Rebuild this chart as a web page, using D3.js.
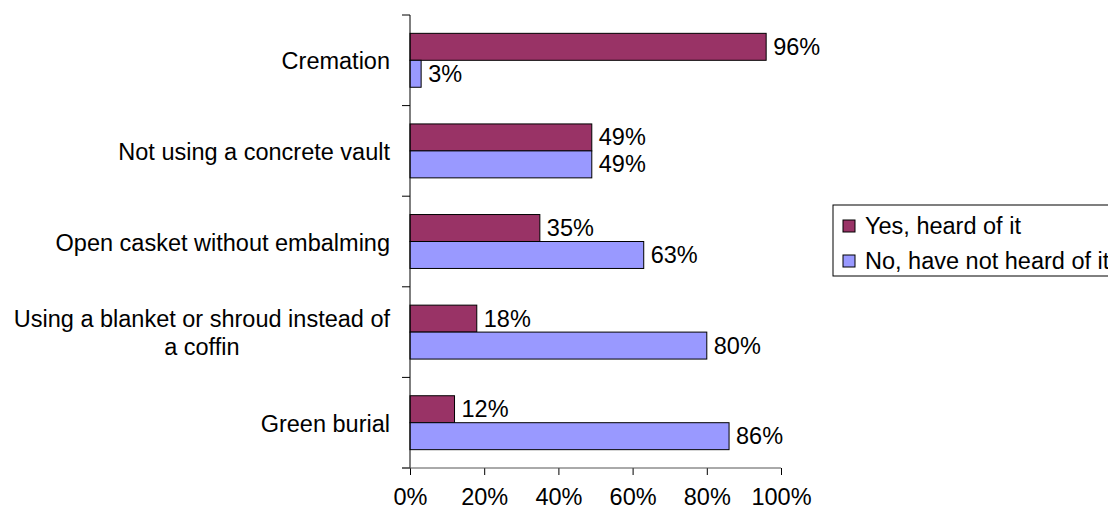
<!DOCTYPE html>
<html>
<head>
<meta charset="utf-8">
<script src="https://cdn.jsdelivr.net/npm/d3@7"></script>
<style>
  body { margin: 0; background: #fff; }
  svg { display: block; font-family: "Liberation Sans", Arial, sans-serif; }
  text { fill: #000; }
</style>
</head>
<body>
<div class="container"></div>
<script>
const categories = ["Cremation", "Not using a concrete vault", "Open casket without embalming",
  "Using a blanket or shroud instead of a coffin", "Green burial"];
const seriesNames = ["Yes, heard of it", "No, have not heard of it"];
const yesValues = [96, 49, 35, 18, 12];
const noValues = [3, 49, 63, 80, 86];
const xTicks = [0, 20, 40, 60, 80, 100];
const colors = ["#993366", "#9999ff"];

const w = 1108;
const h = 512;
const fontSize = 23.5;

const svg = d3.select('.container').append('svg')
        .attr('width', w)
        .attr('height', h);

const x = d3.scaleLinear().domain([0, 100]).range([410, 781]);
const y = d3.scaleBand().domain(categories).range([15, 468]);
const ySub = d3.scaleBand().domain(seriesNames).range([0, y.bandwidth()]).paddingOuter(0.68);

const rows = categories.map((c, i) => ({cat: c, vals: [yesValues[i], noValues[i]]}));

// bars
const groups = svg.append('g').selectAll('g')
    .data(rows)
    .enter().append('g')
      .attr('transform', d => `translate(0,${y(d.cat)})`);

groups.selectAll('rect')
    .data(d => d.vals.map((v, j) => ({v, s: seriesNames[j], j})))
    .enter().append('rect')
      .attr('x', x(0))
      .attr('y', d => ySub(d.s))
      .attr('width', d => x(d.v) - x(0))
      .attr('height', ySub.bandwidth())
      .attr('fill', d => colors[d.j])
      .attr('stroke', '#000')
      .attr('stroke-width', 1);

groups.selectAll('text')
    .data(d => d.vals.map((v, j) => ({v, s: seriesNames[j]})))
    .enter().append('text')
      .attr('x', d => x(d.v) + 7)
      .attr('y', d => ySub(d.s) + ySub.bandwidth() / 2)
      .attr('dominant-baseline', 'central')
      .style('font-size', fontSize + 'px')
      .text(d => d.v + '%');

// y axis
const yAxis = svg.append('g');
yAxis.append('line')
    .attr('x1', x(0)).attr('x2', x(0))
    .attr('y1', y.range()[0]).attr('y2', y.range()[1])
    .attr('stroke', '#000');
yAxis.selectAll('line.tick')
    .data(categories.map(c => y(c)).concat([y.range()[1]]))
    .enter().append('line')
      .attr('class', 'tick')
      .attr('x1', x(0) - 8).attr('x2', x(0))
      .attr('y1', d => d).attr('y2', d => d)
      .attr('stroke', '#000');

yAxis.selectAll('text.cat')
    .data(categories)
    .enter().append('text')
      .attr('class', 'cat')
      .style('font-size', fontSize + 'px')
      .each(function(d) {
        const t = d3.select(this);
        // wrap long labels into lines of at most 385px
        const words = d.split(' ');
        const lines = [];
        let cur = [];
        const probe = t.append('tspan');
        words.forEach(wd => {
          probe.text(cur.concat([wd]).join(' '));
          if (probe.node().getComputedTextLength() > 385 && cur.length) {
            lines.push(cur.join(' '));
            cur = [wd];
          } else {
            cur.push(wd);
          }
        });
        lines.push(cur.join(' '));
        const lh = 28;
        const cy = y(d) + y.bandwidth() / 2 + 1;
        if (lines.length === 1) {
          probe.remove();
          t.attr('text-anchor', 'end')
            .attr('x', 390)
            .attr('y', cy)
            .attr('dominant-baseline', 'central')
            .text(lines[0]);
        } else {
          // centred block, right edge at 390
          probe.text(lines[0]);
          const maxW = probe.node().getComputedTextLength();
          probe.remove();
          const cx = 390 - maxW / 2;
          t.attr('text-anchor', 'middle');
          lines.forEach((l, i) => {
            t.append('tspan')
              .attr('x', cx)
              .attr('y', cy + (i - (lines.length - 1) / 2) * lh)
              .attr('dominant-baseline', 'central')
              .text(l);
          });
        }
      });

// x axis
const xAxis = d3.axisBottom(x)
    .tickValues(xTicks)
    .tickSize(7)
    .tickSizeOuter(0)
    .tickFormat(d => d + '%');

const xg = svg.append('g')
    .attr('transform', `translate(0,${y.range()[1]})`)
    .call(xAxis);
xg.select('.domain').remove();
xg.append('line')
    .attr('x1', x(0) - 8).attr('x2', x(100))
    .attr('stroke', '#555');
xg.selectAll('.tick line').attr('stroke', '#000');
xg.selectAll('.tick text')
    .attr('y', 29)
    .attr('dy', 0)
    .attr('dominant-baseline', 'central')
    .style('font-size', fontSize + 'px')
    .style('font-family', '"Liberation Sans", Arial, sans-serif')
    .attr('fill', '#000');

// legend
const legend = svg.append('g').attr('transform', 'translate(833,205)');
legend.append('rect')
    .attr('x', 0).attr('y', 0)
    .attr('width', 290).attr('height', 71)
    .attr('fill', '#fff')
    .attr('stroke', '#000');
const items = legend.selectAll('g')
    .data(seriesNames)
    .enter().append('g')
      .attr('transform', (d, i) => `translate(10,${21 + i * 35})`);
items.append('rect')
    .attr('x', 0).attr('y', -6)
    .attr('width', 12).attr('height', 12)
    .attr('fill', (d, i) => colors[i])
    .attr('stroke', '#000');
items.append('text')
    .attr('x', 22)
    .attr('y', 0)
    .attr('dominant-baseline', 'central')
    .style('font-size', fontSize + 'px')
    .text(d => d);
</script>
</body>
</html>
